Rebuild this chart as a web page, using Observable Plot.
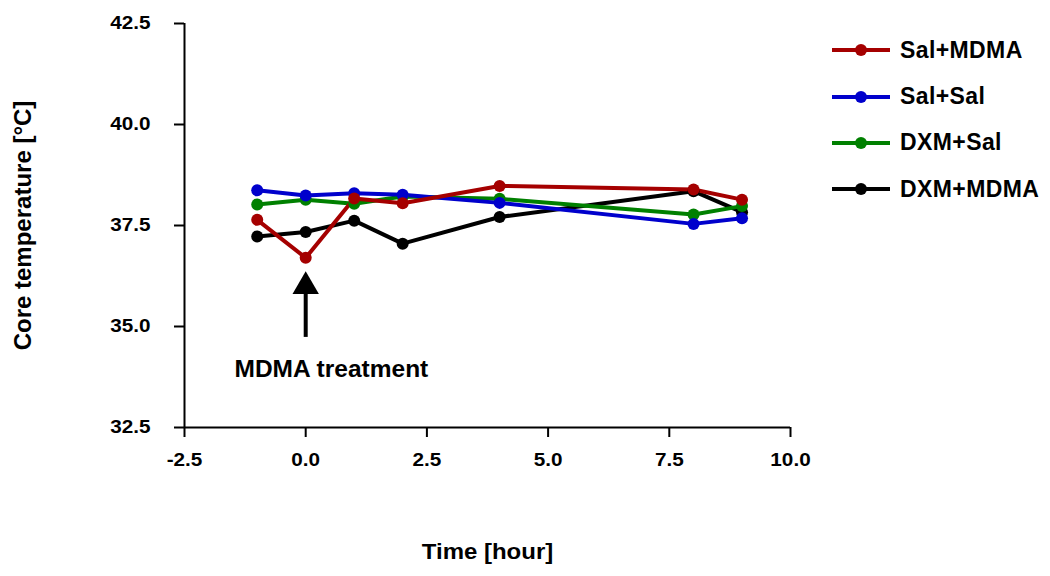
<!DOCTYPE html>
<html>
<head>
<meta charset="utf-8">
<script src="https://cdn.jsdelivr.net/npm/d3@7"></script>
<script src="https://cdn.jsdelivr.net/npm/@observablehq/plot@0.6"></script>
<style>
  body { margin: 0; background: #fff; }
  #wrap { position: relative; width: 1050px; height: 576px; font-family: "Liberation Sans", Arial, sans-serif; font-weight: bold; }
  #legend { position: absolute; left: 830px; top: 27px; }
  .item { display: flex; align-items: center; height: 46.4px; font-size: 23px; letter-spacing: 0.4px; color: #000; }
  .item svg { margin-right: 8px; }
</style>
</head>
<body>
<div id="wrap"></div>
<script>
const hours = [-1, 0, 1, 2, 4, 8, 9];
const seriesNames = ["Sal+MDMA", "Sal+Sal", "DXM+Sal", "DXM+MDMA"];
const seriesColors = ["#a50000", "#0000cc", "#008000", "#000000"];
const salMdma = [37.64, 36.70, 38.17, 38.05, 38.48, 38.39, 38.14];
const salSal  = [38.37, 38.24, 38.30, 38.26, 38.06, 37.54, 37.68];
const dxmSal  = [38.02, 38.14, 38.04, 38.22, 38.16, 37.77, 37.98];
const dxmMdma = [37.23, 37.34, 37.62, 37.05, 37.71, 38.35, 37.83];
const xTicks = [-2.5, 0, 2.5, 5, 7.5, 10];
const yTicks = [32.5, 35, 37.5, 40, 42.5];
const xTitle = "Time [hour]";
const yTitle = "Core temperature [°C]";
const annotationText = "MDMA treatment";
const annotationX = 0;
const arrowTail = 34.73;
const arrowHeadY = 35.99;
const annotationLabelY = 33.94;

const values = [salMdma, salSal, dxmSal, dxmMdma];
const rows = [];
// draw order: DXM+MDMA, DXM+Sal, Sal+Sal, Sal+MDMA
[3, 2, 1, 0].forEach(si => {
  hours.forEach((h, i) => rows.push({series: seriesNames[si], hour: h, temp: values[si][i]}));
});

const fmt = d => d.toFixed(1);
const font = "'Liberation Sans', Arial, sans-serif";

const chart = Plot.plot({
  width: 1050,
  height: 576,
  marginLeft: 184,
  marginRight: 260,
  marginTop: 23,
  marginBottom: 149,
  style: {fontFamily: font, fontWeight: "bold", background: "#fff", color: "#000", overflow: "visible"},
  x: {domain: [xTicks[0], xTicks[xTicks.length - 1]]},
  y: {domain: [yTicks[0], yTicks[yTicks.length - 1]]},
  color: {domain: seriesNames, range: seriesColors},
  marks: [
    Plot.ruleX([xTicks[0]], {stroke: "#000", strokeWidth: 2}),
    Plot.ruleY([yTicks[0]], {stroke: "#000", strokeWidth: 2}),
    Plot.axisX({ticks: xTicks, tickSize: 10, tickPadding: 16, tickFormat: fmt, fontSize: 18, strokeWidth: 2, label: null}),
    Plot.axisY({ticks: yTicks, tickSize: 10, tickPadding: 24, tickFormat: fmt, fontSize: 18, strokeWidth: 2, label: null}),
    Plot.text([xTitle], {frameAnchor: "bottom", dy: 131, fontSize: 22, fontWeight: "bold"}),
    Plot.text([yTitle], {frameAnchor: "left", textAnchor: "middle", dx: -161, rotate: -90, fontSize: 24, fontWeight: "bold"}),
    Plot.line(rows, {x: "hour", y: "temp", z: "series", stroke: "series", strokeWidth: 4}),
    Plot.dot(rows, {x: "hour", y: "temp", fill: "series", r: 6}),
    Plot.ruleX([annotationX], {y1: arrowTail, y2: arrowHeadY, stroke: "#000", strokeWidth: 4}),
    Plot.dot([annotationX], {x: d => d, y: () => arrowHeadY, symbol: "triangle", r: 9.8, fill: "#000"}),
    Plot.text([annotationText], {x: () => annotationX + 0.53, y: () => annotationLabelY, fontSize: 24.5, fontWeight: "bold"})
  ]
});

const wrap = document.getElementById("wrap");
wrap.appendChild(chart);

function stretch(el, factor) {
  const len = el.getComputedTextLength();
  el.setAttribute("textLength", (len * factor).toFixed(2));
  el.setAttribute("lengthAdjust", "spacingAndGlyphs");
}
chart.querySelectorAll('g[aria-label="x-axis tick label"] text, g[aria-label="y-axis tick label"] text')
  .forEach(t => stretch(t, 1.15));
chart.querySelectorAll("text").forEach(t => {
  if (t.textContent === xTitle) stretch(t, 1.09);
});

const legend = document.createElement("div");
legend.id = "legend";
seriesNames.forEach((name, i) => {
  const item = document.createElement("div");
  item.className = "item";
  item.innerHTML = `<svg width="62" height="14"><line x1="2" x2="60" y1="7" y2="7" stroke="${seriesColors[i]}" stroke-width="4"/><circle cx="31" cy="7" r="6" fill="${seriesColors[i]}"/></svg><span>${name}</span>`;
  legend.appendChild(item);
});
wrap.appendChild(legend);
</script>
</body>
</html>
